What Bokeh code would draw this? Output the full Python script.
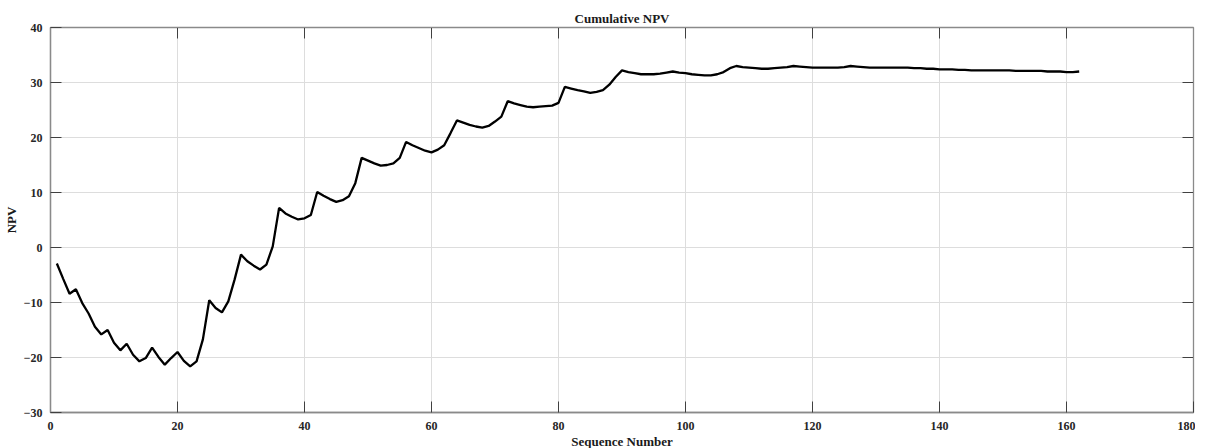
import math
from bokeh.plotting import figure
from bokeh.models import SingleIntervalTicker, Range1d, ColumnDataSource
from bokeh.embed import file_html
from bokeh.resources import INLINE

seq = list(range(1, 163))
npv = [
    -2.9, -5.7, -8.4, -7.6, -10.1, -12.0, -14.4, -15.8, -15.0, -17.3,
    -18.7, -17.5, -19.5, -20.7, -20.1, -18.2, -19.9, -21.3, -20.1, -19.0,
    -20.6, -21.6, -20.7, -16.7, -9.6, -11.0, -11.8, -9.8, -5.8, -1.3,
    -2.5, -3.3, -4.0, -3.1, 0.2, 7.2, 6.2, 5.6, 5.1, 5.3,
    5.9, 10.1, 9.4, 8.8, 8.3, 8.6, 9.3, 11.7, 16.3, 15.8,
    15.3, 14.9, 15.0, 15.3, 16.3, 19.2, 18.6, 18.1, 17.6, 17.3,
    17.8, 18.6, 20.8, 23.1, 22.7, 22.3, 22.0, 21.8, 22.1, 22.9,
    23.8, 26.6, 26.2, 25.9, 25.6, 25.5, 25.6, 25.7, 25.8, 26.3,
    29.2, 28.9, 28.6, 28.4, 28.1, 28.3, 28.6, 29.6, 31.0, 32.2,
    31.9, 31.7, 31.5, 31.5, 31.5, 31.6, 31.8, 32.0, 31.8, 31.7,
    31.5, 31.4, 31.3, 31.3, 31.5, 31.9, 32.6, 33.0, 32.8, 32.7,
    32.6, 32.5, 32.5, 32.6, 32.7, 32.8, 33.0, 32.9, 32.8, 32.7,
    32.7, 32.7, 32.7, 32.7, 32.8, 33.0, 32.9, 32.8, 32.7, 32.7,
    32.7, 32.7, 32.7, 32.7, 32.7, 32.6, 32.6, 32.5, 32.5, 32.4,
    32.4, 32.4, 32.3, 32.3, 32.2, 32.2, 32.2, 32.2, 32.2, 32.2,
    32.2, 32.1, 32.1, 32.1, 32.1, 32.1, 32.0, 32.0, 32.0, 31.9,
    31.9, 32.0,
]

x_ticks = [0, 20, 40, 60, 80, 100, 120, 140, 160, 180]
y_ticks = [-30, -20, -10, 0, 10, 20, 30, 40]

title_text = "Cumulative NPV"
x_label = "Sequence Number"
y_label = "NPV"

FONT = "Liberation Serif"
AXIS_COLOR = "#8a8a8a"
TICK_COLOR = "#404040"
TEXT_COLOR = "#262626"

x_min, x_max = x_ticks[0], x_ticks[-1]
y_min, y_max = y_ticks[0], y_ticks[-1]

p = figure(
    width=1195, height=451,
    output_backend="svg", toolbar_location=None,
    x_range=Range1d(x_min, x_max), y_range=Range1d(y_min, y_max),
    min_border_left=39, min_border_right=2, min_border_top=27, min_border_bottom=34,
    x_axis_label=x_label, y_axis_label=y_label,
)

p.title.text = title_text
p.title.align = "center"
p.title.text_font = FONT
p.title.text_font_size = "13px"
p.title.text_font_style = "bold"
p.title.text_color = "#1a1a1a"
p.title.offset = 0
p.title.standoff = 3

src = ColumnDataSource(dict(x=seq, y=npv))
p.line("x", "y", source=src, line_color="black", line_width=2.3)

p.xaxis.ticker = SingleIntervalTicker(interval=20)
p.yaxis.ticker = SingleIntervalTicker(interval=10)

for ax in (p.xaxis[0], p.yaxis[0]):
    ax.axis_line_color = AXIS_COLOR
    ax.axis_line_width = 1.3
    ax.major_tick_in = 11
    ax.major_tick_out = 0
    ax.major_tick_line_color = TICK_COLOR
    ax.minor_tick_line_color = None
    ax.major_label_text_font = FONT
    ax.major_label_text_font_style = "bold"
    ax.major_label_text_font_size = "12px"
    ax.major_label_text_color = TEXT_COLOR
    ax.axis_label_text_font = FONT
    ax.axis_label_text_font_style = "bold"
    ax.axis_label_text_font_size = "13px"
    ax.axis_label_text_color = "#1a1a1a"

p.xaxis.major_label_standoff = 5
p.xaxis.axis_label_standoff = 1
p.yaxis.major_label_standoff = 4
p.yaxis.axis_label_standoff = 2

# mirrored inward ticks on the top and right edges of the box
p.ray(x=x_ticks[1:-1], y=[y_max] * (len(x_ticks) - 2), length=11, length_units="screen",
      angle=-math.pi / 2, line_color=TICK_COLOR, line_width=1)
p.ray(x=[x_max] * (len(y_ticks) - 2), y=y_ticks[1:-1], length=11, length_units="screen",
      angle=math.pi, line_color=TICK_COLOR, line_width=1)

p.xgrid.grid_line_color = "#dddddd"
p.ygrid.grid_line_color = "#dddddd"
p.xgrid.grid_line_width = 1
p.ygrid.grid_line_width = 1
p.outline_line_color = AXIS_COLOR
p.outline_line_width = 1.3
p.background_fill_color = "white"
p.border_fill_color = "white"

open("out.html", "w").write(file_html(p, INLINE))
